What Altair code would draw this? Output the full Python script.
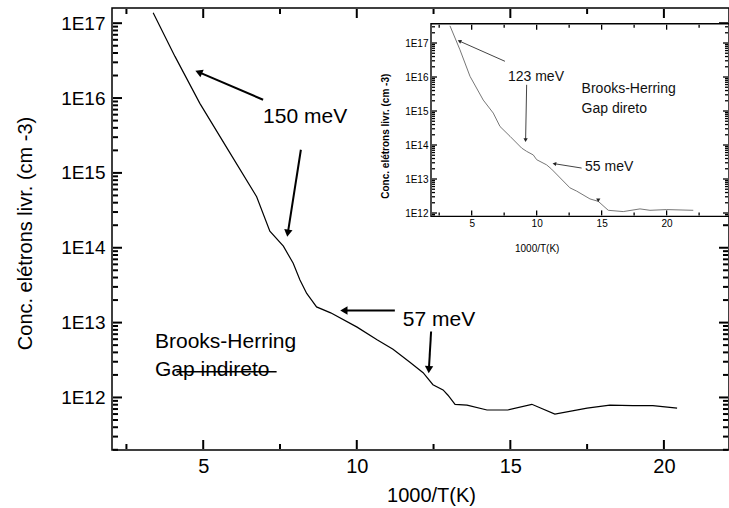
import math
import altair as alt
import pandas as pd

# ---------------- data ----------------
main_x = [3.37, 4.08, 4.89, 5.82, 6.74, 7.17, 7.61, 7.93, 8.15, 8.37, 8.53, 8.69, 9.15,
          10.01, 10.66, 11.18, 11.73, 12.16, 12.48, 12.81, 12.97, 13.20, 13.59, 14.24,
          14.92, 15.70, 16.45, 17.50, 18.24, 18.99, 19.64, 20.43]
main_y = [1.38e17, 3.6e16, 8.5e15, 2.0e15, 4.8e14, 1.66e14, 1.05e14, 6.2e13, 3.7e13,
          2.45e13, 2.0e13, 1.62e13, 1.35e13, 8.7e12, 5.9e12, 4.4e12, 2.95e12, 2.14e12,
          1.48e12, 1.26e12, 1.07e12, 8.1e11, 7.9e11, 6.8e11, 6.8e11, 8.1e11, 6.0e11,
          7.2e11, 7.9e11, 7.8e11, 7.8e11, 7.2e11]

inset_x = [3.33, 4.10, 4.87, 5.89, 6.66, 7.18, 7.95, 8.85, 9.23, 9.74, 10.0, 10.77,
           11.15, 12.56, 13.08, 14.10, 14.74, 15.51, 16.66, 17.95, 18.72, 20.0, 22.05]
inset_y = [3.2e17, 6.3e16, 1.05e16, 2.1e15, 8.7e14, 3.5e14, 1.8e14, 8.1e13, 6.5e13,
           5.1e13, 3.7e13, 2.6e13, 1.95e13, 5.5e12, 4.4e12, 2.6e12, 2.2e12, 1.2e12,
           1.1e12, 1.32e12, 1.2e12, 1.26e12, 1.2e12]

x_tick_labels = [5, 10, 15, 20]
y_decades = [1e12, 1e13, 1e14, 1e15, 1e16, 1e17]

# annotations (main)
main_arrow_tail_x = [6.95, 8.18, 11.24, 12.42]
main_arrow_tail_y = [9.5e15, 2.04e15, 1.45e13, 7.6e12]
main_arrow_head_x = [4.89, 7.76, 9.62, 12.35]
main_arrow_head_y = [2.19e16, 1.62e14, 1.45e13, 2.45e12]
main_arrow_angle = [293, 189, 270, 183]
main_labels = ["150 meV", "57 meV", "Brooks-Herring", "Gap indireto"]
main_label_x = [6.95, 11.5, 3.43, 3.43]
main_label_y = [5.5e15, 1.1e13, 5.5e12, 2.34e12]
strike_x = [4.13]
strike_x2 = [7.39]
strike_y = [2.2e12]

# annotations (inset)
inset_arrow_tail_x = [7.56, 9.23, 13.46]
inset_arrow_tail_y = [2.9e16, 5.9e15, 2.1e13]
inset_arrow_head_x = [4.10, 9.15, 11.41, 14.74]
inset_arrow_head_y = [1.12e17, 1.45e14, 2.8e13, 2.45e12]
inset_arrow_angle = [294, 181, 279, 180]
inset_labels = ["123 meV", "Brooks-Herring", "Gap direto", "55 meV"]
inset_label_x = [7.79, 13.46, 13.46, 13.72]
inset_label_y = [1.0e16, 4.3e15, 1.15e15, 2.3e13]

# ---------------- layout ----------------
W, H = 617, 442
FONT = "Liberation Sans"
MX = [2.03, 22.12]
MY = [10 ** 11.298, 10 ** 17.203]
IX = [1.87, 24.8]
IY = [10 ** 11.9, 10 ** 17.568]
IXR = [319, 617]
IYR = [208.4, 15.7]


def log_minor(lo, hi):
    out = []
    for e in range(10, 19):
        for m in range(2, 10):
            v = float(m * 10 ** e)
            if lo <= v <= hi:
                out.append(v)
    return out


def log_major(lo, hi):
    return [float(10 ** e) for e in range(10, 19) if lo <= 10 ** e <= hi]


x_major_main = [5.0, 10.0, 15.0, 20.0]
x_minor_main = [2.5, 7.5, 12.5, 17.5]
x_major_inset = [5.0, 10.0, 15.0, 20.0]
x_minor_inset = [2.5, 7.5, 12.5, 17.5, 22.5]

LBL = "'1E' + round(log(datum.value)/LN10)"


def xs_main():
    return alt.Scale(domain=MX, nice=False, zero=False)


def ys_main():
    return alt.Scale(type="log", domain=MY, nice=False)


def xs_in():
    return alt.Scale(domain=IX, range=IXR, nice=False, zero=False)


def ys_in():
    return alt.Scale(type="log", domain=IY, range=IYR, nice=False)


def frame_ticks(xd, yd, wpx, hpx, xmaj, xmin, big, small, width, color):
    """Inward ticks on the edges of a frame, as segments in data units."""
    ux = (xd[1] - xd[0]) / wpx
    uy = (math.log10(yd[1]) - math.log10(yd[0])) / hpx
    rows = []
    for v, s in [(v, big) for v in xmaj] + [(v, small) for v in xmin]:
        rows.append((v, yd[0] * 10 ** (1 * uy), v, yd[0] * 10 ** ((s + 1) * uy), width, color))
        rows.append((v, yd[1] / 10 ** (1 * uy), v, yd[1] / 10 ** ((s + 1) * uy), width, color))
    ymaj, ymin = log_major(*yd), log_minor(*yd)
    for v, s in [(v, big) for v in ymaj] + [(v, small) for v in ymin]:
        rows.append((xd[0] + ux, v, xd[0] + (s + 1) * ux, v, width, color))
        rows.append((xd[1] - ux, v, xd[1] - (s + 1) * ux, v, width, color))
    return pd.DataFrame(rows, columns=["x", "y", "x2", "y2", "w", "c"])


def segments(tx, ty, hx, hy, width, color):
    return pd.DataFrame({"x": tx, "y": ty, "x2": hx, "y2": hy,
                         "w": [width] * len(tx), "c": [color] * len(tx)})


def seg_layer(df, xsc, ysc):
    return alt.Chart(df).mark_rule().encode(
        x=alt.X("x:Q", scale=xsc, axis=None), x2="x2:Q",
        y=alt.Y("y:Q", scale=ysc, axis=None), y2="y2:Q",
        strokeWidth=alt.StrokeWidth("w:Q", scale=None),
        color=alt.Color("c:N", scale=None),
    )


main_df = pd.DataFrame({"x": main_x, "y": main_y})
inset_df = pd.DataFrame({"x": inset_x, "y": inset_y})

curve = alt.Chart(main_df).mark_line(color="black", strokeWidth=1.2).encode(
    x=alt.X("x:Q", scale=xs_main(), axis=alt.Axis(
        orient="bottom", values=x_tick_labels, title="1000/T(K)", tickSize=0,
        domain=False, grid=False, labelFont=FONT, labelFontSize=20, labelPadding=6,
        labelColor="black", titleFont=FONT, titleFontSize=20, titleFontWeight="normal",
        titleColor="black", titleX=319, titleY=45, titleBaseline="middle", zindex=1)),
    y=alt.Y("y:Q", scale=ys_main(), axis=alt.Axis(
        orient="left", values=y_decades, labelExpr=LBL, title="Conc. elétrons livr. (cm -3)",
        tickSize=0, domain=False, grid=False, labelFont=FONT, labelFontSize=19,
        labelPadding=7, labelColor="black", titleFont=FONT, titleFontSize=20,
        titleFontWeight="normal", titleColor="black", titleX=-87, titleY=225,
        titleBaseline="middle", zindex=1)),
)

main_segments = pd.concat([
    segments(main_arrow_tail_x, main_arrow_tail_y, main_arrow_head_x, main_arrow_head_y, 2, "black"),
    segments(strike_x, strike_y, strike_x2, strike_y, 1.5, "black"),
    frame_ticks(MX, MY, W, H, x_major_main, x_minor_main, 9, 5, 2, "black"),
], ignore_index=True)
main_lines = seg_layer(main_segments, xs_main(), ys_main())

m_heads = pd.DataFrame({"x": main_arrow_head_x, "y": main_arrow_head_y, "a": main_arrow_angle})
heads = alt.Chart(m_heads).mark_point(shape="triangle", filled=True, size=70,
                                      color="black", opacity=1).encode(
    x=alt.X("x:Q", scale=xs_main(), axis=None),
    y=alt.Y("y:Q", scale=ys_main(), axis=None),
    angle=alt.Angle("a:Q", scale=None),
)
m_text = pd.DataFrame({"x": main_label_x, "y": main_label_y, "t": main_labels})
texts = alt.Chart(m_text).mark_text(align="left", baseline="middle", font=FONT,
                                    fontSize=21, color="black").encode(
    x=alt.X("x:Q", scale=xs_main(), axis=None),
    y=alt.Y("y:Q", scale=ys_main(), axis=None),
    text="t:N",
)

# ---------------- inset ----------------
frame = alt.Chart(pd.DataFrame({"x0": [IX[0]], "x1": [IX[1]], "y0": [IY[0]], "y1": [IY[1]]})).mark_rect(
    fill="white", stroke="black", strokeWidth=1.4).encode(
    x=alt.X("x0:Q", scale=xs_in(), axis=None), x2="x1:Q",
    y=alt.Y("y0:Q", scale=ys_in(), axis=None), y2="y1:Q",
)

inset_curve = alt.Chart(inset_df).mark_line(color="#777777", strokeWidth=1).encode(
    x=alt.X("x:Q", scale=xs_in(), axis=alt.Axis(
        orient="bottom", offset=IYR[0] - H, values=x_tick_labels, title="1000/T(K)",
        tickSize=0, domain=False, grid=False, labelFont=FONT, labelFontSize=10,
        labelPadding=2, labelColor="black", titleFont=FONT, titleFontSize=10,
        titleFontWeight="normal", titleColor="black", titleX=424.7, titleY=32,
        titleBaseline="middle", zindex=1)),
    y=alt.Y("y:Q", scale=ys_in(), axis=alt.Axis(
        orient="left", offset=-IXR[0], values=y_decades, labelExpr=LBL,
        title="Conc. elétrons livr. (cm -3)", tickSize=0, domain=False, grid=False,
        labelFont=FONT, labelFontSize=10, labelPadding=3, labelColor="black",
        titleFont=FONT, titleFontSize=10, titleFontWeight="bold", titleColor="black",
        titleX=-46, titleY=127.7, titleBaseline="middle", zindex=1)),
)

inset_segments = pd.concat([
    segments(inset_arrow_tail_x, inset_arrow_tail_y, inset_arrow_head_x[:3],
             inset_arrow_head_y[:3], 1, "#444444"),
    frame_ticks(IX, IY, IXR[1] - IXR[0], IYR[0] - IYR[1], x_major_inset, x_minor_inset,
                5, 3, 1.3, "black"),
], ignore_index=True)
inset_lines = seg_layer(inset_segments, xs_in(), ys_in())

i_heads = pd.DataFrame({"x": inset_arrow_head_x, "y": inset_arrow_head_y, "a": inset_arrow_angle})
in_heads = alt.Chart(i_heads).mark_point(shape="triangle", filled=True, size=18,
                                         color="#222222", opacity=1).encode(
    x=alt.X("x:Q", scale=xs_in(), axis=None),
    y=alt.Y("y:Q", scale=ys_in(), axis=None),
    angle=alt.Angle("a:Q", scale=None),
)
i_text = pd.DataFrame({"x": inset_label_x, "y": inset_label_y, "t": inset_labels})
in_texts = alt.Chart(i_text).mark_text(align="left", baseline="middle", font=FONT,
                                       fontSize=14, color="#111111").encode(
    x=alt.X("x:Q", scale=xs_in(), axis=None),
    y=alt.Y("y:Q", scale=ys_in(), axis=None),
    text="t:N",
)

chart = alt.layer(
    curve, main_lines, heads, texts,
    frame, inset_curve, inset_lines, in_heads, in_texts,
).resolve_scale(x="independent", y="independent").resolve_axis(
    x="independent", y="independent"
).properties(
    width=W, height=H, background="white",
    autosize=alt.AutoSizeParams(type="none"),
    padding={"left": 112, "top": 8, "right": 0, "bottom": 58},
).configure_view(stroke="black", strokeWidth=1.5)

chart.save("out.html", embed_options={"renderer": "svg", "actions": False})
